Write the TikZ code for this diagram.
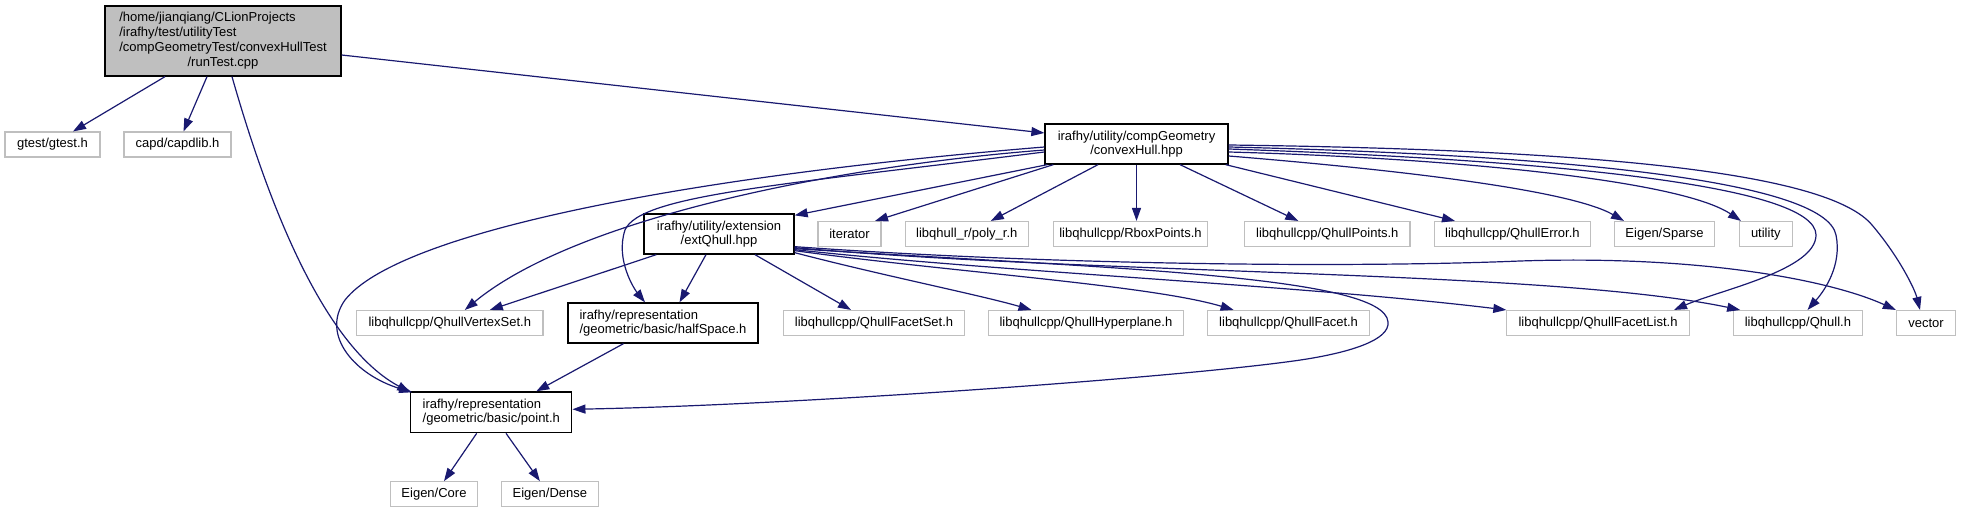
\documentclass[tikz,border=0pt]{standalone}
\usepackage{fontspec}
\setmainfont{Liberation Sans}
\usetikzlibrary{arrows.meta,calc}
\definecolor{edgeblue}{HTML}{191970}
\definecolor{boxgray}{HTML}{BFBFBF}
\definecolor{mainfill}{HTML}{BFBFBF}
\tikzset{
  every node/.style={font=\fontsize{13}{14.6}\selectfont, inner sep=0pt},
  gbox/.style={draw=boxgray, fill=white, line width=1.1pt, minimum height=25pt},
  bbox/.style={draw=black, fill=white, line width=1.3pt, minimum height=40pt, align=center},
  mainbox/.style={draw=black, fill=mainfill, line width=1.3pt},
  dep/.style={draw=edgeblue, line width=1.2pt, -{Triangle[length=13pt,width=9pt]}}
}
\begin{document}
\begin{tikzpicture}[x=1pt,y=-1pt]
\useasboundingbox (0,0) rectangle (1961,513);
\fill[white] (0,0) rectangle (1961,513);
% nodes
\node[mainbox, minimum width=236pt, minimum height=70pt] (runTest) at (223,41)
  {\fontsize{13}{14.8}\selectfont\begin{tabular}{@{}l@{}}/home/jianqiang/CLionProjects\\/irafhy/test/utilityTest\\/compGeometryTest/convexHullTest\\\multicolumn{1}{@{}c@{}}{/runTest.cpp}\end{tabular}};
\node[gbox, minimum width=95pt] (gtest) at (52.5,144.5) {gtest/gtest.h};
\node[gbox, minimum width=107pt] (capd) at (177.5,144.5) {capd/capdlib.h};
\node[bbox, minimum width=183pt] (convexHull) at (1136.5,144) {irafhy/utility/compGeometry\\/convexHull.hpp};
\node[bbox, minimum width=150pt] (extQhull) at (719,234) {irafhy/utility/extension\\/extQhull.hpp};
\node[gbox, minimum width=63pt] (iterator) at (849.5,234) {iterator};
\node[gbox, minimum width=122.6pt] (polyr) at (966.8,234) {libqhull\_r/poly\_r.h};
\node[gbox, minimum width=154.7pt] (rbox) at (1130.5,234) {libqhullcpp/RboxPoints.h};
\node[gbox, minimum width=165.4pt] (qpoints) at (1327.3,234) {libqhullcpp/QhullPoints.h};
\node[gbox, minimum width=156.4pt] (qerror) at (1512.4,234) {libqhullcpp/QhullError.h};
\node[gbox, minimum width=100pt] (sparse) at (1664.5,234) {Eigen/Sparse};
\node[gbox, minimum width=52.6pt] (utility) at (1765.8,234) {utility};
\node[gbox, minimum width=186.4pt] (vset) at (449.8,323) {libqhullcpp/QhullVertexSet.h};
\node[bbox, minimum width=190pt, align=left] (half) at (663,323) {irafhy/representation\\/geometric/basic/halfSpace.h};
\node[gbox, minimum width=181.4pt] (fset) at (874,323) {libqhullcpp/QhullFacetSet.h};
\node[gbox, minimum width=194.8pt] (hyper) at (1085.9,323) {libqhullcpp/QhullHyperplane.h};
\node[gbox, minimum width=162pt] (facet) at (1288.6,323) {libqhullcpp/QhullFacet.h};
\node[gbox, minimum width=182.3pt] (flist) at (1598,323) {libqhullcpp/QhullFacetList.h};
\node[gbox, minimum width=128.4pt] (qhull) at (1797.9,323) {libqhullcpp/Qhull.h};
\node[gbox, minimum width=59.3pt] (vec) at (1926,323) {vector};
\node[bbox, minimum width=161pt, minimum height=40.7pt, align=left] (pointh) at (491.3,412.3) {irafhy/representation\\/geometric/basic/point.h};
\node[gbox, minimum width=86.3pt] (ecore) at (434,494.2) {Eigen/Core};
\node[gbox, minimum width=97.2pt] (edense) at (549.9,494.2) {Eigen/Dense};
% edges from runTest
\draw[dep] ($(runTest.south)+(-58,0)$) -- ($(gtest.north)+(20.5,0)$);
\draw[dep] ($(runTest.south)+(-16,0)$) -- ($(capd.north)+(6,0)$);
\draw[dep] ($(runTest.east)+(0,14)$) -- ($(convexHull.west)+(0,-11)$);
\draw[dep] ($(runTest.south)+(9,0)$) .. controls (290,280) and (350,360) .. ($(pointh.north west)+(0,1)$);
% edges from convexHull
\draw[dep] ($(convexHull.south west)+(3,0)$) -- ($(extQhull.north east)+(0,2)$);
\draw[dep] ($(convexHull.south west)+(9,0)$) -- ($(iterator.north)+(25.5,0)$);
\draw[dep] ($(convexHull.south)+(-38.5,0)$) -- ($(polyr.north)+(24,0)$);
\draw[dep] (convexHull.south) -- ($(rbox.north)+(6,0)$);
\draw[dep] ($(convexHull.south)+(43.5,0)$) -- ($(qpoints.north)+(-29,0)$);
\draw[dep] ($(convexHull.south east)+(-3,0)$) -- ($(qerror.north)+(-57.4,0)$);
\draw[dep] ($(convexHull.east)+(0,12)$) .. controls (1400,170) and (1570,190) .. ($(sparse.north)+(-40.5,0)$);
\draw[dep] ($(convexHull.east)+(0,8)$) .. controls (1450,158) and (1680,180) .. ($(utility.north)+(-24.8,0)$);
\draw[dep] ($(convexHull.east)+(0,5)$) .. controls (1550,160) and (1816,185) .. (1816,235) .. controls (1816,270) and (1720,290) .. ($(flist.north)+(76,0)$);
\draw[dep] ($(convexHull.east)+(0,3)$) .. controls (1560,155) and (1825,180) .. (1836,235) .. controls (1842,265) and (1825,290) .. ($(qhull.north)+(9.6,0)$);
\draw[dep] ($(convexHull.east)+(0,1)$) .. controls (1620,150) and (1830,175) .. (1872,225) .. controls (1900,258) and (1915,290) .. ($(vec.north)+(-6,0)$);
\draw[dep] ($(convexHull.west)+(0,6)$) .. controls (850,165) and (580,215) .. ($(vset.north)+(15,0)$);
\draw[dep] ($(convexHull.west)+(0,8)$) .. controls (780,185) and (640,195) .. (625,230) .. controls (615,260) and (635,290) .. ($(half.north)+(-18,0)$);
\draw[dep] ($(convexHull.west)+(0,3)$) .. controls (700,175) and (400,230) .. (345,300) .. controls (320,335) and (355,375) .. ($(pointh.north west)+(2,1)$);
% edges from extQhull
\draw[dep] ($(extQhull.south west)+(13,0)$) -- ($(vset.north)+(40,0)$);
\draw[dep] ($(extQhull.south)+(-13,0)$) -- ($(half.north)+(16.5,0)$);
\draw[dep] ($(extQhull.south)+(36,0)$) -- ($(fset.north)+(-23,0)$);
\draw[dep] ($(extQhull.south east)+(0,-2)$) .. controls (880,275) and (980,295) .. ($(hyper.north)+(-54.4,0)$);
\draw[dep] ($(extQhull.south east)+(0,-4)$) .. controls (950,272) and (1150,285) .. ($(facet.north)+(-55,0)$);
\draw[dep] ($(extQhull.south east)+(0,-5)$) .. controls (1000,272) and (1300,285) .. (flist.north west);
\draw[dep] ($(extQhull.south east)+(0,-7)$) .. controls (1100,275) and (1550,270) .. ($(qhull.north west)+(7,0)$);
\draw[dep] ($(extQhull.south east)+(0,-8)$) .. controls (1050,265) and (1350,268) .. (1520,261) .. controls (1700,255) and (1830,280) .. (vec.north west);
\draw[dep] ($(extQhull.south east)+(0,-6)$) .. controls (1100,268) and (1385,275) .. (1388,322) .. controls (1390,340) and (1350,352) .. (1307,359) .. controls (1200,376) and (800,405) .. ($(pointh.east)+(0,-3)$);
% other edges
\draw[dep] ($(half.south)+(-39.5,0)$) -- ($(pointh.north)+(45,0)$);
\draw[dep] ($(pointh.south)+(-14.6,0)$) -- ($(ecore.north)+(10,0)$);
\draw[dep] ($(pointh.south)+(14.7,0)$) -- ($(edense.north)+(-10,0)$);
\end{tikzpicture}
\end{document}
